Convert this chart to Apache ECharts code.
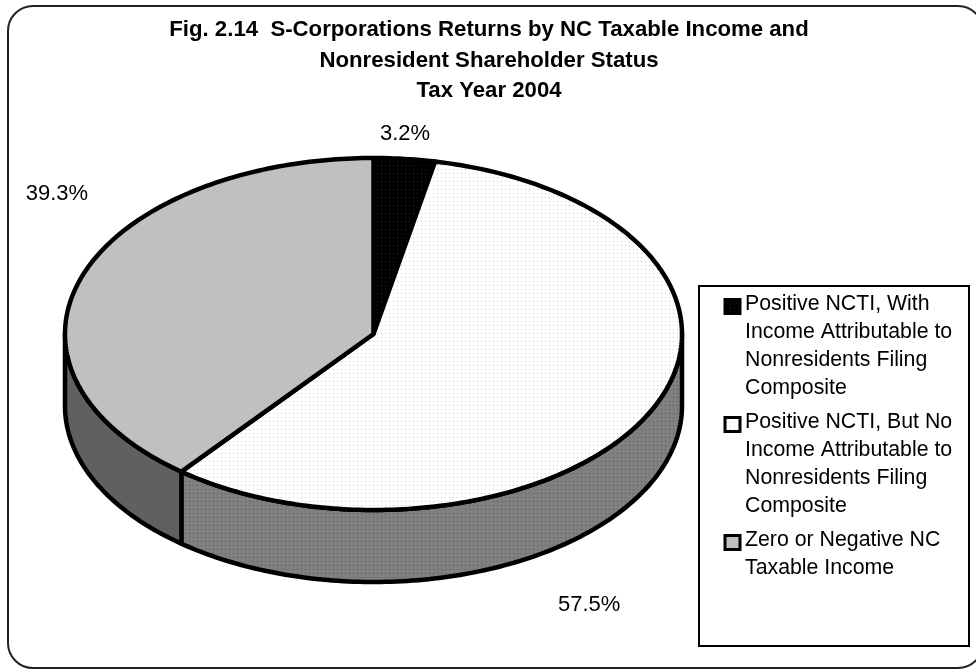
<!DOCTYPE html>
<html>
<head>
<meta charset="utf-8">
<style>html,body{margin:0;padding:0;background:#fff}#c{width:976px;height:671px}</style>
<script src="https://cdn.jsdelivr.net/npm/echarts@6/dist/echarts.min.js"></script>
</head>
<body>
<div id="c"></div>
<script>
var titleText = 'Fig. 2.14  S-Corporations Returns by NC Taxable Income and\nNonresident Shareholder Status\nTax Year 2004';
var categories = [
  'Positive NCTI, With\nIncome Attributable to\nNonresidents Filing\nComposite',
  'Positive NCTI, But No\nIncome Attributable to\nNonresidents Filing\nComposite',
  'Zero or Negative NC\nTaxable Income'
];
var values = [3.2, 57.5, 39.3];

var FONT = '"Liberation Sans", Arial, sans-serif';
var DEPTH = 72;
var OUTLINE = 4.5;

function dots(bg, dot, size) {
  var c = document.createElement('canvas');
  c.width = c.height = 4;
  var g = c.getContext('2d');
  g.fillStyle = bg; g.fillRect(0, 0, 4, 4);
  if (dot) { g.fillStyle = dot; g.fillRect(1, 1, size, size); }
  return { image: c, repeat: 'repeat' };
}
var topFills = [dots('#000000', '#222222', 1), dots('#ffffff', '#c8c8c8', 1), '#c0c0c0'];
var sideFills = [dots('#000000', '#202020', 1), dots('#808080', '#5c5c5c', 1), '#606060'];
// where each percentage sits, in the pie's unit axes
var labelAnchors = [[0.102, 1.136], [0.699, -1.54], [-1.026, 0.795]];

var total = values.reduce(function (a, b) { return a + b; }, 0);
var starts = [];
values.reduce(function (acc, v, i) { starts[i] = acc; return acc + v; }, 0);
function deg(v) { return v / total * 360; }
function rim(api, aDeg, shift) {
  var a = aDeg * Math.PI / 180;
  var p = api.coord([Math.sin(a), Math.cos(a)]);
  return [p[0], p[1] + (shift || 0)];
}
function arc(api, a0, a1, shift) {
  var out = [], n = Math.max(2, Math.ceil(Math.abs(a1 - a0)));
  for (var i = 0; i <= n; i++) out.push(rim(api, a0 + (a1 - a0) * i / n, shift));
  return out;
}
function renderSide(idx) {
  return function (params, api) {
    var a0 = Math.max(deg(starts[idx]), 90);
    var a1 = Math.min(deg(starts[idx] + values[idx]), 270);
    if (a1 <= a0) return { type: 'group', children: [] };
    var pts = arc(api, a0, a1, 0).concat(arc(api, a1, a0, DEPTH));
    return { type: 'polygon', shape: { points: pts },
      style: { fill: sideFills[idx], stroke: '#000', lineWidth: OUTLINE, lineJoin: 'round' } };
  };
}
function renderTop(idx) {
  return function (params, api) {
    var a0 = deg(starts[idx]), a1 = deg(starts[idx] + values[idx]);
    var pts = [api.coord([0, 0])].concat(arc(api, a0, a1, 0));
    var lp = api.coord(labelAnchors[idx]);
    return { type: 'group', children: [
      { type: 'polygon', shape: { points: pts },
        style: { fill: topFills[idx], stroke: '#000', lineWidth: OUTLINE, lineJoin: 'round' } },
      { type: 'text', z2: 10, style: { x: lp[0], y: lp[1], text: values[idx].toFixed(1) + '%',
        fill: '#000', font: '22px ' + FONT, align: 'center', verticalAlign: 'middle' } }
    ] };
  };
}

var series = [];
values.forEach(function (v, i) {
  series.push({ type: 'custom', coordinateSystem: 'cartesian2d', clip: false, silent: true, z: 2,
    data: [[v]], renderItem: renderSide(i) });
});
values.forEach(function (v, i) {
  series.push({ type: 'custom', name: categories[i], coordinateSystem: 'cartesian2d', clip: false, silent: true, z: 3,
    itemStyle: { color: topFills[i] },
    data: [[v]], renderItem: renderTop(i) });
});

var legendTops = [289, 407, 525];
var legendHeights = [112, 112, 56];
var legends = categories.map(function (name, i) {
  var h = legendHeights[i];
  return {
    show: true, data: [name], orient: 'vertical', left: 723.5, top: legendTops[i], padding: 0,
    selectedMode: false, itemWidth: 15, itemHeight: h, itemGap: 0, symbolKeepAspect: false,
    icon: 'path://M0 9H15V23H0Z M0 0H0 M0 ' + h + 'H0',
    itemStyle: { borderColor: '#000', borderWidth: 3 },
    textStyle: { color: '#000', fontFamily: FONT, fontSize: 21.3, lineHeight: 28 }
  };
});

var chart = echarts.init(document.getElementById('c'), null, { renderer: 'canvas' });
chart.setOption({
  animation: false,
  backgroundColor: '#fff',
  title: { text: titleText, left: 484, top: 10, textAlign: 'center',
    textStyle: { fontFamily: FONT, fontSize: 22.2, fontWeight: 'bold', color: '#000', lineHeight: 30.5 } },
  legend: legends,
  grid: { left: 65, width: 617, top: 158, height: 352, containLabel: false },
  xAxis: { type: 'value', min: -1, max: 1, show: false },
  yAxis: { type: 'value', min: -1, max: 1, show: false },
  graphic: [
    { type: 'rect', z: -1, shape: { x: 8, y: 6, width: 975, height: 662, r: 25 },
      style: { fill: '#fff', stroke: '#222', lineWidth: 2 } },
    { type: 'rect', z: 0, shape: { x: 699, y: 286, width: 270, height: 360 },
      style: { fill: '#fff', stroke: '#000', lineWidth: 2 } }
  ],
  series: series
});
</script>
</body>
</html>
